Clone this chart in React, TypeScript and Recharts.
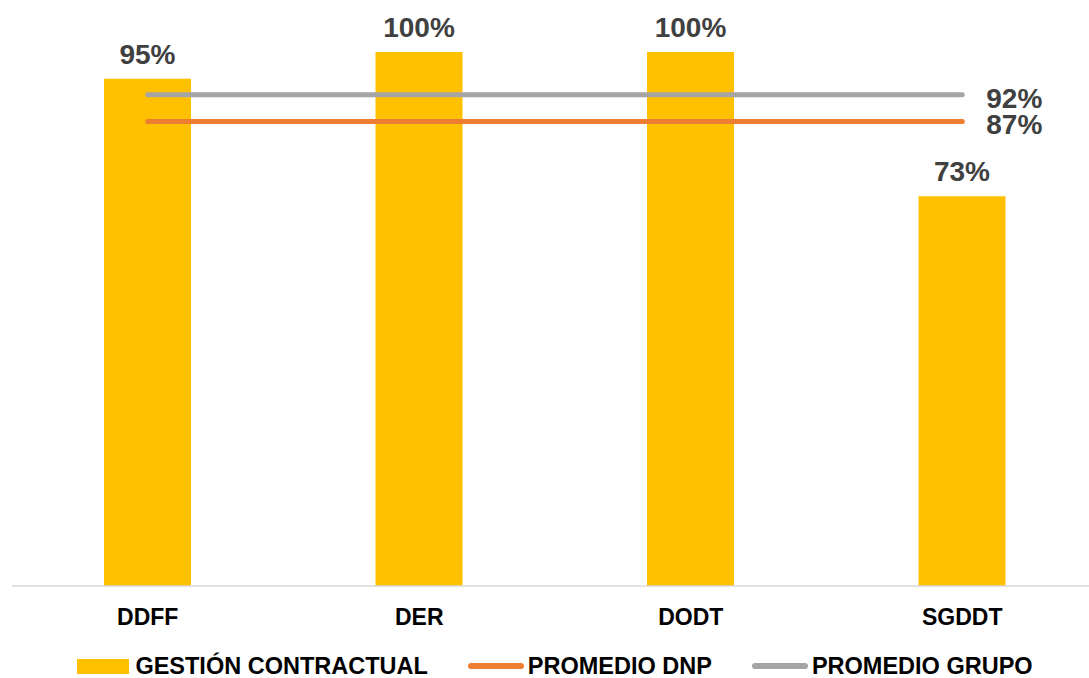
import { ComposedChart, Bar, Line, XAxis, YAxis, Legend, LabelList } from 'recharts';

const categories = ['DDFF', 'DER', 'DODT', 'SGDDT'];
const gestionContractual = [95, 100, 100, 73];
const promedioDnp = [87, 87, 87, 87];
const promedioGrupo = [92, 92, 92, 92];

const data = categories.map((name, i) => ({
  name,
  gestion: gestionContractual[i],
  dnp: promedioDnp[i],
  grupo: promedioGrupo[i],
}));

const FONT = '"Liberation Sans", Arial, sans-serif';

const legendItems = [
  { label: 'GESTIÓN CONTRACTUAL', color: '#FFC000', kind: 'rect' },
  { label: 'PROMEDIO DNP', color: '#ED7D31', kind: 'line' },
  { label: 'PROMEDIO GRUPO', color: '#A5A5A5', kind: 'line' },
];

function ChartLegend() {
  return (
    <div
      style={{
        display: 'flex',
        justifyContent: 'center',
        alignItems: 'center',
        height: 24,
        gap: 40,
        fontFamily: FONT,
        fontWeight: 700,
        fontSize: 23.5,
        color: '#000',
      }}
    >
      {legendItems.map((item) => (
        <div key={item.label} style={{ display: 'flex', alignItems: 'center' }}>
          {item.kind === 'rect' ? (
            <span style={{ width: 52, height: 15, background: item.color, marginRight: 6 }} />
          ) : (
            <span
              style={{ width: 56, height: 6, borderRadius: 3, background: item.color, marginRight: 4 }}
            />
          )}
          <span>{item.label}</span>
        </div>
      ))}
    </div>
  );
}

// value label shown only at the right end of an average line
function endLabel(props: any) {
  const { x, y, index, value } = props;
  if (index !== categories.length - 1) return null;
  return (
    <text
      x={x + 24}
      y={y + 13}
      fill="#404040"
      fontSize={28}
      fontWeight={700}
      fontFamily={FONT}
      textAnchor="start"
    >
      {value}%
    </text>
  );
}

export default function App() {
  return (
    <div style={{ position: 'fixed', left: 0, top: 0, width: 1089, height: 678, overflow: 'hidden', background: '#fff' }}>
      <ComposedChart
        width={1098}
        height={678}
        data={data}
        margin={{ top: 52, right: 0, bottom: 0, left: 12 }}
        barCategoryGap={0}
      >
        <XAxis
          dataKey="name"
          height={68}
          tickLine={false}
          tickSize={0}
          tickMargin={23}
          axisLine={{ stroke: '#D9D9D9', strokeWidth: 1.5 }}
          tick={{ fill: '#000', fontSize: 23, fontWeight: 700, fontFamily: FONT }}
        />
        <YAxis hide domain={[0, 100]} />
        <Legend
          verticalAlign="bottom"
          wrapperStyle={{ left: 12, width: 1086, bottom: 0, height: 24 }}
          content={() => <ChartLegend />}
        />
        <Bar dataKey="gestion" fill="#FFC000" barSize={87} isAnimationActive={false}>
          <LabelList
            dataKey="gestion"
            position="top"
            offset={15}
            formatter={(v: any) => `${v}%`}
            fill="#404040"
            fontSize={28}
            fontWeight={700}
            fontFamily={FONT}
          />
        </Bar>
        <Line
          dataKey="dnp"
          stroke="#ED7D31"
          strokeWidth={5}
          strokeLinecap="round"
          dot={false}
          activeDot={false}
          isAnimationActive={false}
          label={endLabel}
        />
        <Line
          dataKey="grupo"
          stroke="#A5A5A5"
          strokeWidth={5}
          strokeLinecap="round"
          dot={false}
          activeDot={false}
          isAnimationActive={false}
          label={endLabel}
        />
      </ComposedChart>
    </div>
  );
}
